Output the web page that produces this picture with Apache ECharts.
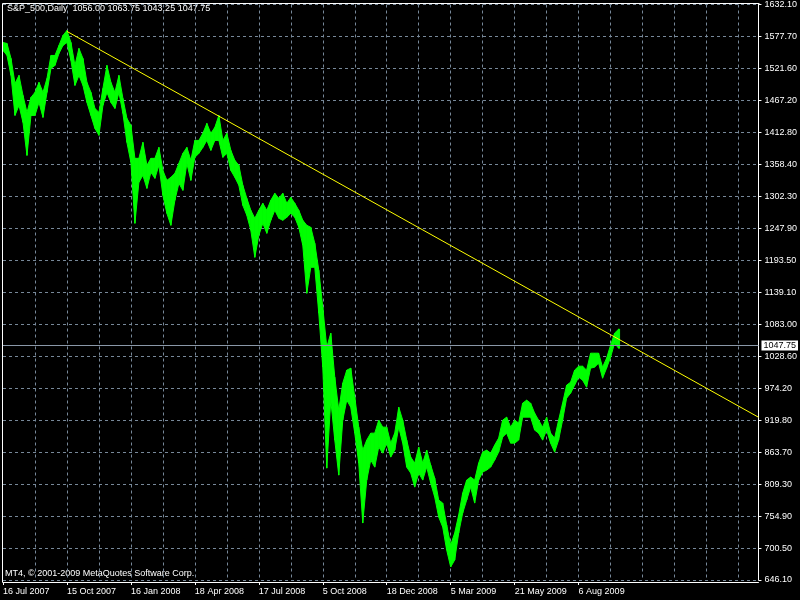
<!DOCTYPE html>
<html>
<head>
<meta charset="utf-8">
<script src="https://cdn.jsdelivr.net/npm/echarts@6/dist/echarts.min.js"></script>
<style>
html,body{margin:0;padding:0;background:#000;}
#chart{width:800px;height:600px;}
</style>
</head>
<body>
<div id="chart"></div>
<script>
// Date tick labels (one every 16 columns)
const tickLabels = ['16 Jul 2007','15 Oct 2007','16 Jan 2008','18 Apr 2008','17 Jul 2008','5 Oct 2008','18 Dec 2008','5 Mar 2009','21 May 2009','6 Aug 2009'];
// Price tick labels (bottom to top)
const priceLabels = ['646.10','700.50','754.90','809.30','863.70','919.80','974.20','1028.60','1083.00','1139.10','1193.50','1247.90','1302.30','1358.40','1412.80','1467.20','1521.60','1577.70','1632.10'];
// High / low per column
const highs = [1567.0,1565.3,1539.7,1496.9,1510.6,1476.3,1447.2,1472.9,1481.5,1498.6,
1481.5,1505.4,1544.8,1544.8,1561.9,1579.0,1587.6,1567.0,1527.7,1556.8,
1539.7,1498.6,1481.5,1454.1,1447.2,1488.3,1527.7,1498.6,1481.5,1510.6,
1471.2,1437.0,1425.0,1368.5,1368.5,1395.9,1356.5,1368.5,1368.5,1387.3,
1347.9,1330.8,1336.0,1342.8,1359.9,1377.0,1387.3,1365.1,1399.3,1399.3,
1411.3,1428.4,1411.3,1421.6,1442.1,1399.3,1411.3,1382.2,1365.1,1356.5,
1322.3,1300.0,1279.5,1265.8,1279.5,1291.5,1279.5,1296.6,1308.6,1300.0,
1308.6,1291.5,1301.7,1291.5,1279.5,1262.4,1253.8,1250.4,1223.0,1176.8,
1113.4,1045.0,1068.9,993.6,937.1,983.3,1005.6,1009.0,959.4,908.0,
868.6,885.8,897.7,897.7,920.0,908.0,908.0,880.6,897.7,942.2,
920.0,885.8,856.7,846.4,873.8,846.4,868.6,843.0,820.7,783.1,
777.9,740.3,706.0,726.6,757.4,795.0,817.3,822.4,817.3,846.4,
865.2,868.6,863.5,877.2,889.2,920.0,925.1,908.0,920.0,914.9,
949.1,954.2,949.1,932.0,920.0,908.0,925.1,897.7,889.2,920.0,
949.1,979.9,985.0,1005.6,1012.4,1012.4,1005.6,1034.7,1034.7,1034.7,
1010.7,1026.1,1048.4,1069.0,1075.8];
const lows = [1553.4,1544.8,1510.6,1442.1,1459.2,1430.1,1373.6,1442.1,1442.1,1464.4,
1438.7,1481.5,1522.6,1527.7,1548.2,1561.9,1567.0,1536.2,1493.5,1510.6,
1493.5,1464.4,1442.1,1419.8,1407.9,1459.2,1481.5,1464.4,1454.1,1481.5,
1445.5,1395.9,1361.6,1257.2,1327.4,1339.4,1317.1,1344.5,1334.3,1356.5,
1305.2,1274.3,1253.8,1296.6,1325.7,1313.7,1359.9,1330.8,1370.2,1377.0,
1387.3,1399.3,1382.2,1399.3,1399.3,1370.2,1377.0,1347.9,1336.0,1322.3,
1288.0,1270.9,1245.2,1199.0,1236.7,1257.2,1240.1,1262.4,1279.5,1265.8,
1262.4,1267.5,1274.3,1267.5,1250.4,1219.6,1137.4,1181.9,1181.9,1103.2,
1010.7,837.8,954.2,885.8,825.8,920.0,954.2,942.2,897.7,846.4,
743.7,817.3,851.5,839.5,873.8,863.5,880.6,856.7,868.6,908.0,
880.6,839.5,829.3,805.3,829.3,817.3,839.5,812.2,788.2,754.0,
736.8,697.5,668.4,680.3,726.6,760.8,783.1,805.3,777.9,817.3,
831.0,834.4,839.5,851.5,865.2,890.9,897.7,880.6,880.6,885.8,
925.1,925.1,925.1,902.9,897.7,885.8,902.9,880.6,865.2,885.8,
920.0,957.7,966.2,979.9,993.6,988.5,976.5,1009.0,1010.7,1017.6,
991.9,1009.0,1027.8,1051.8,1043.25];
// Trend line end points [column index, price]
const trendLine = [[16, 1586.0], [189, 925.0]];
const lastClose = 1047.75;
const titleText = 'S&P_500,Daily  1056.00 1063.75 1043.25 1047.75';
const footText = 'MT4, \u00a9 2001-2009 MetaQuotes Software Corp.';

const NCOL = 190;
const categories = [];
for (let i = 0; i < NCOL; i++) {
  const k = i / 16;
  categories.push(i % 16 === 0 && k < tickLabels.length ? tickLabels[k] : 'c' + i);
}
const yMin = parseFloat(priceLabels[0]);
const yMax = parseFloat(priceLabels[priceLabels.length - 1]);
const yStep = (yMax - yMin) / (priceLabels.length - 1);

const FONT = "'Liberation Sans', Arial, sans-serif";
const gridColor = '#778899';
const GREEN = '#00ff00';

const chart = echarts.init(document.getElementById('chart'), null, {renderer: 'canvas'});
chart.setOption({
  backgroundColor: '#000',
  animation: false,
  grid: {left: 3, right: 41, top: 4, bottom: 20, show: false},
  xAxis: {
    type: 'category',
    data: categories,
    boundaryGap: false,
    offset: 2,
    axisLine: {show: true, lineStyle: {color: '#fff', width: 1}},
    axisTick: {show: true, length: 3, lineStyle: {color: '#fff'},
      interval: (i) => i % 16 === 0 && i / 16 < tickLabels.length},
    axisLabel: {
      color: '#fff', fontSize: 9, fontFamily: FONT, align: 'left', margin: 5,
      interval: (i) => i % 16 === 0 && i / 16 < tickLabels.length,
      formatter: (v) => tickLabels.includes(v) ? v : ''
    },
    splitLine: {show: true, interval: (i) => i % 8 === 0 && i > 0,
      lineStyle: {color: gridColor, type: [3, 3], width: 1}}
  },
  yAxis: {
    type: 'value',
    position: 'right',
    min: yMin, max: yMax, interval: yStep,
    scale: true,
    axisLine: {show: true, lineStyle: {color: '#fff', width: 1}},
    axisTick: {show: true, length: 3, lineStyle: {color: '#fff'}},
    axisLabel: {
      color: '#fff', fontSize: 9, fontFamily: FONT, margin: 6,
      formatter: (v) => {
        const idx = Math.round((v - yMin) / yStep);
        return priceLabels[Math.max(0, Math.min(priceLabels.length - 1, idx))];
      }
    },
    splitLine: {show: true, lineStyle: {color: gridColor, type: [3, 3], width: 1}}
  },
  series: [
    {
      type: 'custom',
      data: lows.map((l, i) => [i, l, highs[i]]),
      encode: {x: 0, y: [1, 2]},
      clip: true,
      renderItem: (params, api) => {
        const i = api.value(0);
        const j = Math.min(i + 1, lows.length - 1);
        const pts = [
          api.coord([i, api.value(1)]),
          api.coord([i, api.value(2)]),
          api.coord([j, highs[j]]),
          api.coord([j, lows[j]])
        ];
        if (j === i) { pts[2][0] += 1; pts[3][0] += 1; }
        return {
          type: 'polygon',
          shape: {points: pts},
          style: {fill: GREEN, stroke: GREEN, lineWidth: 1}
        };
      },
      markLine: {
        silent: true,
        symbol: 'none',
        lineStyle: {color: '#8a98a8', type: 'solid', width: 1},
        label: {show: true, position: 'end', formatter: lastClose.toFixed(2),
          color: '#000', backgroundColor: '#fff', fontSize: 9, fontFamily: FONT, padding: [1, 2, 0, 2], distance: 3},
        data: [{yAxis: lastClose}]
      }
    },
    {
      type: 'line',
      data: trendLine,
      symbol: 'none',
      lineStyle: {color: '#ffff00', width: 1},
      z: 5
    }
  ],
  graphic: [
    {type: 'polyline', silent: true, z: 10,
      shape: {points: [[2.5, 582.5], [2.5, 3.5], [759.5, 3.5]]},
      style: {stroke: '#fff', lineWidth: 1, fill: null}},
    {type: 'text', left: 7, top: 4, style: {text: titleText, fill: '#fff', font: '9px ' + FONT}},
    {type: 'text', left: 5, top: 569, style: {text: footText, fill: '#fff', font: '9px ' + FONT}}
  ]
});
</script>
</body>
</html>
